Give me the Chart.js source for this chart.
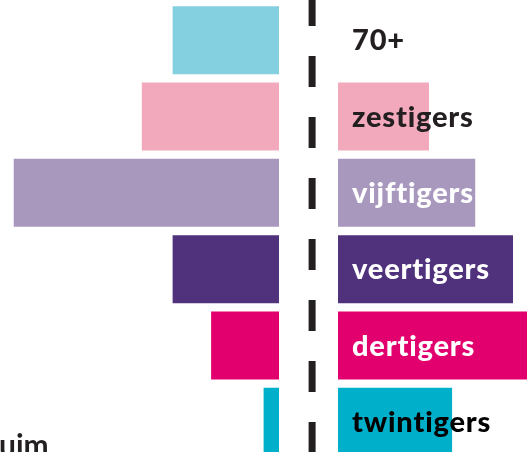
<!DOCTYPE html>
<html>
<head>
<meta charset="utf-8">
<script src="https://cdn.jsdelivr.net/npm/chart.js@4"></script>
<style>
  html, body { margin: 0; padding: 0; background: #fff; overflow: hidden; width: 527px; height: 452px; }
  #wrap { position: relative; width: 527px; height: 460px; }
  #note { position: absolute; left: -1px; top: 426px; font: bold 30px Lato, sans-serif; color: #231f20; }
</style>
</head>
<body>
<div id="wrap">
  <canvas id="ageChart" width="527" height="460"></canvas>
  <div id="note">uim</div>
</div>
<script>
// leeftijdsgroepen, in procenten
const groups = ["70+", "zestigers", "vijftigers", "veertigers", "dertigers", "twintigers"];
const leftValues = [15.2, 19.6, 37.9, 15.2, 9.7, 2.2];
const rightValues = [0, 13, 19.6, 25, 27.5, 16.3];
const barColors = ["#84d0e0", "#f2a9bc", "#a898be", "#4f317c", "#e2006e", "#00afc9"];
const labelColors = ["#231f20", "#231f20", "#ffffff", "#ffffff", "#ffffff", "#000000"];

const dividerPlugin = {
    id: "divider",
    afterDatasetsDraw(chart) {
        const ctx = chart.ctx;
        const xR = chart.scales.xR;
        const x = xR.getPixelForValue(-3.7);
        ctx.save();
        ctx.strokeStyle = "#231f20";
        ctx.lineWidth = 7;
        ctx.setLineDash([31, 30]);
        ctx.beginPath();
        ctx.moveTo(x, -5);
        ctx.lineTo(x, chart.height);
        ctx.stroke();
        ctx.restore();
    }
};

const labelPlugin = {
    id: "groupLabels",
    afterDatasetsDraw(chart) {
        const ctx = chart.ctx;
        const x0 = chart.scales.xR.getPixelForValue(0) + 14;
        const meta = chart.getDatasetMeta(1);
        ctx.save();
        ctx.font = "900 29px Lato, sans-serif";
        ctx.letterSpacing = "0.8px";
        ctx.textBaseline = "alphabetic";
        meta.data.forEach((bar, i) => {
            ctx.fillStyle = labelColors[i];
            ctx.fillText(groups[i], x0, bar.y + 10);
        });
        ctx.restore();
    }
};

new Chart(document.getElementById("ageChart").getContext("2d"), {
    type: "bar",
    data: {
        labels: groups,
        datasets: [
            { data: leftValues, xAxisID: "xL", backgroundColor: barColors, barThickness: 68, grouped: false, inflateAmount: 0 },
            { data: rightValues, xAxisID: "xR", backgroundColor: barColors, barThickness: 68, grouped: false, inflateAmount: 0 }
        ]
    },
    options: {
        indexAxis: "y",
        responsive: false,
        animation: false,
        layout: { padding: { top: 2, left: 0, right: 0, bottom: 0 } },
        scales: {
            y: { display: false },
            xL: { display: false, reverse: true, min: -35.43, max: 39.86 },
            xR: { display: false, min: -48.29, max: 27 }
        },
        plugins: {
            legend: { display: false },
            tooltip: { enabled: false }
        }
    },
    plugins: [dividerPlugin, labelPlugin]
});
</script>
</body>
</html>
